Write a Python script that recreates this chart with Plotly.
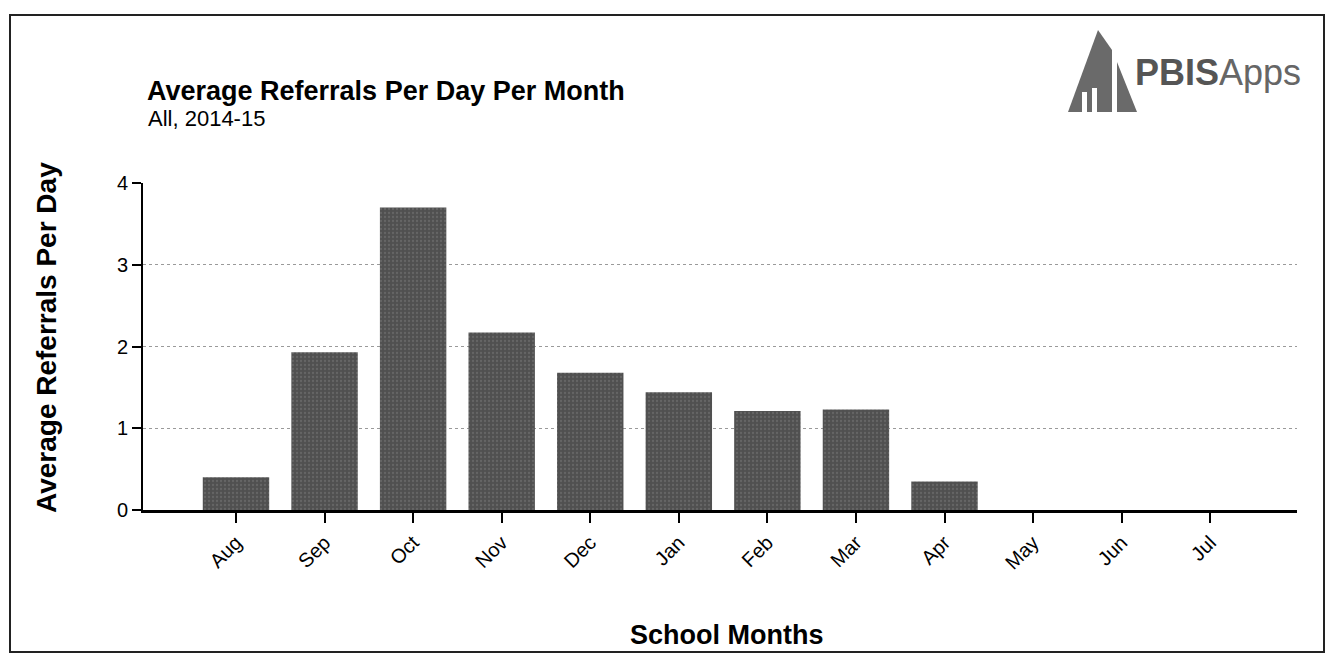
import plotly.graph_objects as go

# data
months = ['Aug', 'Sep', 'Oct', 'Nov', 'Dec', 'Jan', 'Feb', 'Mar', 'Apr', 'May', 'Jun', 'Jul']
referrals_per_day = [0.40, 1.93, 3.70, 2.17, 1.68, 1.44, 1.21, 1.23, 0.35, 0, 0, 0]
y_ticks = [0, 1, 2, 3, 4]

# page has an 8px body margin, so the figure is a bit smaller than the window
OFF = 8
W, H = 1318, 647
L, R, T, B = 135, 29, 175, 145
pw, ph = W - L - R, H - T - B

def px(x):
    return (x - OFF - L) / pw

def py(y):
    return (H - B - (y - OFF)) / ph

font = "Liberation Sans, Arial, Helvetica, sans-serif"

fig = go.Figure()
fig.add_trace(go.Bar(
    x=months,
    y=referrals_per_day,
    marker=dict(color='#505050', line=dict(width=0),
                pattern=dict(shape='.', fgcolor='#7a7a7a', size=4, solidity=0.25)),
    hoverinfo='x+y'
))

fig.update_layout(
    width=W, height=H,
    margin=dict(l=L, r=R, t=T, b=B),
    paper_bgcolor='white', plot_bgcolor='white',
    font=dict(family=font, color='black'),
    bargap=0.25,
    showlegend=False,
    xaxis=dict(
        range=[-1.05, 11.98], tickangle=-45,
        tickfont=dict(size=20), ticks='outside', ticklen=10, tickwidth=2, tickcolor='black',
        showline=True, linecolor='black', linewidth=3, showgrid=False, zeroline=False,
    ),
    yaxis=dict(
        range=[0, 4], tickvals=y_ticks, tickfont=dict(size=20),
        ticks='outside', ticklen=9, tickwidth=2, tickcolor='black',
        showline=True, linecolor='black', linewidth=2,
        showgrid=True, gridcolor='#9a9a9a', gridwidth=1, griddash='dot',
        zeroline=False,
    ),
)

# outer frame
fig.add_shape(type='rect', xref='paper', yref='paper',
              x0=px(10), x1=px(1324), y0=py(652), y1=py(15),
              line=dict(color='#222', width=2), fillcolor='rgba(0,0,0,0)', layer='below')

# titles
fig.add_annotation(text='<b>Average Referrals Per Day Per Month</b>', xref='paper', yref='paper',
                   x=px(145), y=py(91), xanchor='left', yanchor='middle', showarrow=False,
                   font=dict(size=27, family=font))
fig.add_annotation(text='All, 2014-15', xref='paper', yref='paper',
                   x=px(146), y=py(119), xanchor='left', yanchor='middle', showarrow=False,
                   font=dict(size=22, family=font))
fig.add_annotation(text='<b>Average Referrals Per Day</b>', xref='paper', yref='paper',
                   x=px(46), y=py(338), xanchor='center', yanchor='middle', showarrow=False,
                   textangle=-90, font=dict(size=28, family=font))
fig.add_annotation(text='<b>School Months</b>', xref='paper', yref='paper',
                   x=px(726), y=py(635), xanchor='center', yanchor='middle', showarrow=False,
                   font=dict(size=27, family=font))

# PBISApps logo
fig.add_shape(type='path', xref='paper', yref='paper',
              path='M {} {} L {} {} L {} {} L {} {} L {} {} Z'.format(
                  px(1068), py(112), px(1098), py(30), px(1112), py(50),
                  px(1112), py(112), px(1068), py(112)),
              fillcolor='#6a6a6a', line=dict(width=0))
fig.add_shape(type='path', xref='paper', yref='paper',
              path='M {} {} L {} {} L {} {} Z'.format(
                  px(1117), py(62), px(1137), py(112), px(1117), py(112)),
              fillcolor='#6a6a6a', line=dict(width=0))
for x0, x1, y0 in [(1082, 1087, 92), (1092, 1097, 88)]:
    fig.add_shape(type='rect', xref='paper', yref='paper',
                  x0=px(x0), x1=px(x1), y0=py(112), y1=py(y0),
                  fillcolor='white', line=dict(width=0))
fig.add_annotation(text='<b>PBIS</b><span style="color:#666">Apps</span>', xref='paper', yref='paper',
                   x=px(1133), y=py(72), xanchor='left', yanchor='middle', showarrow=False,
                   font=dict(size=36, family=font, color='#555'))

fig.write_html("out.html")
